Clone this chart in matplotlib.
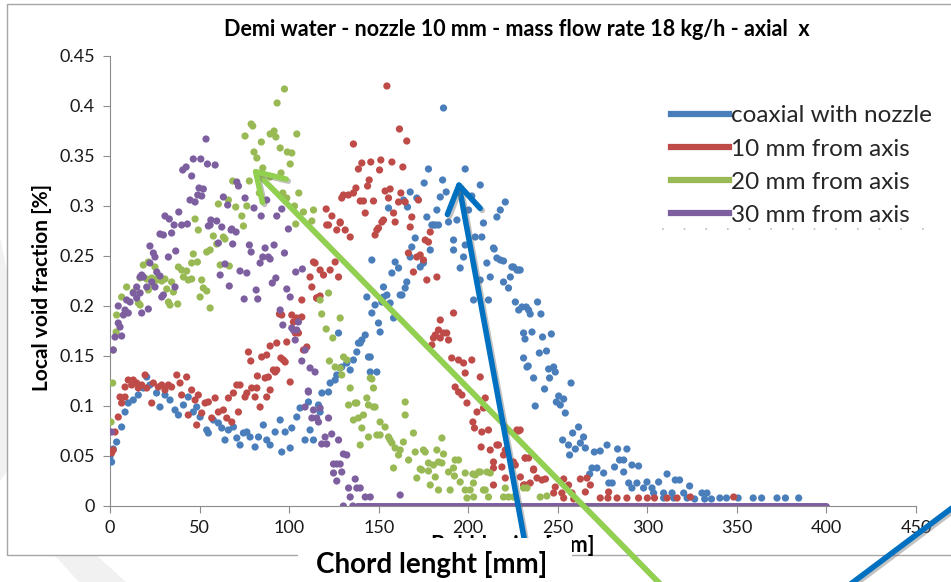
import numpy as np
import matplotlib
matplotlib.use("Agg")
import matplotlib.pyplot as plt
from matplotlib.patches import Rectangle, Polygon, FancyArrowPatch, ArrowStyle
from matplotlib.lines import Line2D
import matplotlib.patheffects as pe

plt.rcParams['font.family'] = ['Lato', 'DejaVu Sans']

# data: (chord length mm, local void fraction)
blue_pts = [(0.9,0.044),(0,0.049),(1.8,0.057),(3.7,0.064),(6.5,0.079),(8.4,0.094),(10.2,0.103),(13,0.106),
    (15.8,0.111),(18.6,0.118),(20.5,0.129),(22.3,0.121),(26,0.113),(27.9,0.099),(30.7,0.111),(33.5,0.106),
    (36.3,0.096),(38.2,0.091),(41,0.101),(43.7,0.109),(46.5,0.094),(48.4,0.099),(50.3,0.089),(54,0.076),
    (54.9,0.073),(57.7,0.086),(60.5,0.083),(62.4,0.078),(64.2,0.066),(66.1,0.076),(68.9,0.079),(70.8,0.068),
    (72.6,0.061),(74.5,0.073),(76.4,0.074),(78.2,0.069),(81,0.059),(82.9,0.069),(85.6,0.081),(87.5,0.066),
    (89.4,0.061),(92.2,0.074),(95,0.086),(95.9,0.054),(97.8,0.074),(100.6,0.058),(101.5,0.078),(104.3,0.089),
    (106.1,0.098),(108.9,0.066),(110.8,0.104),(111.7,0.076),(113.6,0.066),(116.4,0.101),(117.3,0.094),
    (118.3,0.113),(122,0.114),(122.9,0.123),(125.7,0.126),(126.6,0.131),(128.5,0.138),(132.2,0.143),
    (134.1,0.136),(135.9,0.146),(138.7,0.163),(140.6,0.166),(142.5,0.171),(144.3,0.149),(145.3,0.134),
    (146.2,0.193),(148,0.201),(149,0.134),(149.9,0.183),(150.8,0.174),(152.7,0.209),(154.6,0.211),
    (156.4,0.203),(158.3,0.188),(162,0.211),(146.2,0.246),(143.4,0.209),(151.8,0.204),(152.7,0.219),
    (157.4,0.233),(159.2,0.244),(161.1,0.238),(163,0.211),(164.8,0.218),(165.7,0.224),(167.6,0.249),
    (168.5,0.259),(170.4,0.268),(173.2,0.239),(175,0.243),(178.8,0.256),(179.7,0.281),(181.6,0.281),
    (183.4,0.281),(189,0.284),(191.8,0.266),(191.8,0.256),(195.5,0.238),(197.4,0.249),(198.3,0.261),
    (203,0.206),(203.9,0.269),(206.7,0.226),(207.6,0.269),(208.5,0.283),(210.4,0.243),(211.3,0.206),
    (212.3,0.229),(214.1,0.258),(216,0.248),(217.9,0.246),(219.7,0.245),(219.7,0.224),(223.5,0.229),
    (224.4,0.239),(226.3,0.204),(227.2,0.236),(228.2,0.196),(230,0.199),(230.9,0.173),(230.9,0.148),
    (232.8,0.139),(233.7,0.196),(127.6,0.173),(139.7,0.163),(137.8,0.154),(145.3,0.149),(129.4,0.139),
    (186.2,0.398),(177.8,0.337),(198.3,0.337),(175.4,0.323),(185.7,0.326),(206.7,0.321),(167.6,0.314),
    (171.3,0.308),(184.4,0.309),(187.7,0.314),(202,0.310),(220.7,0.304),(217.9,0.296),(216,0.289),
    (163.9,0.306),(166.1,0.299),(155.5,0.298),(182.5,0.296),(176.9,0.289),(200.2,0.296),(193.7,0.286),
    (180.6,0.281),(214.5,0.257),(225.3,0.239),(228.1,0.236),(222.5,0.218),(229,0.236),(238.7,0.204),
    (232.4,0.199),(234.6,0.192),(240.6,0.192),(235.6,0.174),(231.7,0.167),(241.5,0.169),(246.4,0.172),
    (239.7,0.153),(243.7,0.155),(233.5,0.140),(244.9,0.137),(247.7,0.139),(248.6,0.134),(236.5,0.128),
    (245.4,0.128),(257.4,0.123),(242.6,0.117),(250.5,0.110),(249.2,0.104),(253.3,0.107),(251.4,0.101),
    (237.4,0.100),(254.2,0.093),(261.6,0.079),(258.3,0.073),(264.4,0.069),(252.7,0.066),(262.6,0.063),
    (256,0.061),(259.8,0.057),(265.4,0.058),(256.6,0.051),(270.4,0.054),(273.7,0.055),(277.5,0.061),
    (283.4,0.057),(288.6,0.057),(284.5,0.046),(286.8,0.046),(269.1,0.038),(271.9,0.038),(281.7,0.039),
    (291.4,0.041),(295.1,0.040),(275.6,0.033),(267.8,0.032),(286.8,0.034),(278.5,0.023),(280.4,0.023),
    (289.6,0.023),(294.2,0.023),(299.8,0.024),(306.3,0.024),(311,0.032),(315.6,0.026),(318,0.026),
    (323.6,0.020),(291.4,0.018),(297.9,0.018),(302.6,0.018),(303.5,0.013),(309.1,0.013),(313.8,0.013),
    (320.3,0.013),(330.5,0.013),(333.3,0.013),(309.1,0.008),(314.7,0.008),(322.2,0.008),(326.4,0.007),
    (332,0.007),(335.8,0.007),(340.5,0.008),(344.2,0.008),(350.7,0.008),(359.1,0.008),(363.8,0.008),
    (372.4,0.008),(377.1,0.008),(384.5,0.008)]

red_pts = [(0.9,0.053),(1.8,0.056),(2.8,0.074),(4.6,0.089),(6.5,0.103),(5.6,0.109),(8.4,0.109),(8.4,0.119),
    (10.2,0.126),(12.1,0.121),(13,0.126),(14.9,0.123),(15.8,0.118),(17.7,0.121),(19.6,0.131),(20.5,0.118),
    (23.3,0.103),(24.2,0.123),(27,0.119),(28.9,0.121),(30.7,0.116),(32.6,0.121),(34.4,0.119),(37.3,0.131),
    (39.1,0.123),(40,0.111),(42.8,0.129),(43.7,0.091),(45.6,0.116),(47.5,0.106),(49.3,0.111),(48.4,0.081),
    (51.2,0.093),(53.1,0.103),(54.9,0.104),(56.8,0.088),(58.7,0.108),(60.5,0.094),(63.3,0.096),(65.2,0.088),
    (66.1,0.108),(68,0.084),(68.9,0.113),(70.8,0.121),(71.7,0.094),(72.6,0.121),(75.4,0.109),(76.4,0.113),
    (79.1,0.118),(81,0.109),(82,0.118),(83.8,0.099),(86.6,0.128),(87.5,0.109),(88.4,0.129),(89.4,0.116),
    (100.6,0.124),(92.2,0.134),(77.3,0.154),(78.6,0.145),(82.3,0.130),(84.7,0.149),(87.5,0.151),(89.4,0.160),
    (91.2,0.136),(93.1,0.163),(95.4,0.148),(97.8,0.144),(98.7,0.164),(101.5,0.191),(102.4,0.184),
    (104.3,0.188),(105.2,0.173),(107.1,0.189),(108,0.156),(109.9,0.159),(107.1,0.206),(115.4,0.208),
    (117.3,0.210),(94.6,0.192),(113.6,0.244),(111.7,0.229),(112.7,0.219),(95.9,0.191),(103.4,0.173),
    (93.1,0.136),(96.8,0.146),(121,0.281),(126.6,0.276),(128.5,0.283),(131.3,0.276),(134.1,0.269),
    (148,0.271),(149,0.276),(151.8,0.284),(159.2,0.284),(167.6,0.279),(176,0.266),(177.8,0.264),
    (178.8,0.274),(166.6,0.253),(171.3,0.249),(173.2,0.251),(175,0.246),(169.4,0.234),(176.9,0.226),
    (182.5,0.229),(114.5,0.243),(117.3,0.236),(119.2,0.231),(122.9,0.236),(125.7,0.244),(127.6,0.229),
    (115.4,0.208),(184.4,0.186),(191.8,0.193),(188,0.173),(183.4,0.176),(181.6,0.171),(186.2,0.173),
    (184.4,0.168),(189,0.166),(180.6,0.168),(179.7,0.161),(190.8,0.148),(194.6,0.146),(197.4,0.143),
    (202,0.146),(198.3,0.133),(206.7,0.129),(154.6,0.420),(161.6,0.377),(165.7,0.365),(135.9,0.362),
    (140.6,0.343),(138.7,0.337),(145.6,0.344),(151.2,0.346),(150.5,0.336),(157.4,0.344),(163.5,0.339),
    (144.7,0.326),(143.8,0.320),(137.3,0.318),(130.3,0.311),(129.4,0.308),(133.1,0.311),(135.9,0.313),
    (139.7,0.305),(141.5,0.305),(147.1,0.305),(153.6,0.315),(156.4,0.317),(155.5,0.308),(161.1,0.304),
    (162.4,0.313),(164.8,0.304),(142.5,0.293),(158.3,0.293),(152.7,0.286),(168.5,0.289),(172.2,0.306),
    (120.7,0.297),(123.9,0.290),(128.5,0.284),(122,0.281),(149.9,0.278),(192.7,0.119),(194.6,0.114),
    (196.5,0.111),(199.3,0.103),(204.9,0.094),(208.5,0.098),(209.5,0.108),(202.6,0.084),(203.5,0.078),
    (207.6,0.074),(211.3,0.076),(207.2,0.059),(212.3,0.056),(216.9,0.061),(219.7,0.051),(214.1,0.044),
    (218.8,0.039),(214.1,0.038),(220.7,0.028),(214.1,0.021),(225.3,0.044),(228.1,0.075),(227.2,0.076),
    (229.1,0.029),(230.9,0.021),(233.7,0.048),(229,0.076),(231.8,0.048),(236.5,0.037),(238.4,0.028),
    (234.6,0.023),(241.2,0.026),(243.1,0.027),(248.6,0.019),(253.3,0.027),(252.3,0.013),(257.9,0.013),
    (253.3,0.008),(258.9,0.007),(262.6,0.027),(266.3,0.028),(268.2,0.021),(265.4,0.014),(273.7,0.008),
    (278.4,0.014),(283.1,0.008),(288.6,0.008),(295.1,0.008),(311,0.008),(316.6,0.008),(324,0.009),
    (348.2,0.009),(231.8,0.021),(247.7,0.013),(256,0.021),(216,0.061),(220.7,0.056),(226.3,0.041),
    (236.5,0.036),(231.8,0.048),(278,0.008),(300,0.008),(304,0.008)]

green_pts = [(0.6,0.084),(1.5,0.123),(1.8,0.156),(3.4,0.174),(3.7,0.191),(6.5,0.209),(9.3,0.219),(13,0.214),
    (15.8,0.203),(16.8,0.201),(16.8,0.228),(18.6,0.241),(20.5,0.227),(21.4,0.216),(21.4,0.244),(23.3,0.228),
    (24.2,0.221),(25.1,0.239),(26.1,0.226),(27,0.229),(28.9,0.225),(30.7,0.227),(31.7,0.217),(32.6,0.204),
    (33.5,0.201),(34.4,0.224),(35.4,0.214),(37.8,0.202),(38.2,0.239),(40,0.236),(41,0.229),(42.8,0.235),
    (43.7,0.226),(45.6,0.227),(45.6,0.243),(46.5,0.252),(47.5,0.287),(48.8,0.244),(49.3,0.276),(50.3,0.209),
    (51.2,0.226),(52.1,0.218),(54,0.215),(54,0.254),(55.9,0.256),(55.9,0.198),(57.7,0.270),(59.6,0.262),
    (60.5,0.302),(61.5,0.241),(63.3,0.269),(64.2,0.267),(66.1,0.306),(66.6,0.240),(68.5,0.325),(70.2,0.299),
    (73.6,0.290),(74.5,0.280),(75.4,0.370),(76.4,0.300),(77.8,0.325),(78.8,0.382),(79.7,0.380),(80.4,0.354),
    (82,0.348),(83.4,0.313),(84.5,0.364),(85.3,0.338),(89.4,0.372),(89.4,0.329),(91.6,0.375),(92.6,0.369),
    (93.3,0.403),(95,0.358),(95.5,0.333),(96.5,0.313),(97.4,0.417),(98.7,0.308),(99,0.354),(100.6,0.342),
    (101.5,0.353),(103,0.300),(103.7,0.282),(104.3,0.372),(105.4,0.313),(108,0.294),(112.7,0.285),
    (113.6,0.296),(117.3,0.206),(118.2,0.192),(120.7,0.177),(122,0.213),(122.5,0.145),(124.4,0.168),
    (125.7,0.139),(128.5,0.188),(128.5,0.138),(129.4,0.131),(130.4,0.149),(132.3,0.146),(133.2,0.101),
    (134.1,0.118),(135.9,0.086),(136.9,0.103),(137.8,0.103),(138.7,0.088),(139.7,0.061),(140.6,0.078),
    (141.5,0.091),(143.4,0.108),(144.3,0.101),(144.3,0.069),(145.3,0.128),(146.2,0.127),(147.1,0.118),
    (147.1,0.099),(148,0.099),(149,0.071),(150.8,0.084),(150.8,0.071),(153.6,0.079),(155.5,0.069),
    (156.4,0.066),(157.4,0.063),(158.3,0.038),(159.2,0.058),(161.1,0.051),(162,0.056),(163.8,0.064),
    (164.8,0.104),(164.8,0.091),(166.7,0.046),(169.4,0.073),(170.4,0.054),(171.3,0.028),(173.2,0.037),
    (174.1,0.036),(175,0.056),(176,0.054),(177.8,0.043),(177.8,0.035),(178.8,0.021),(180.6,0.041),
    (181.6,0.029),(182.5,0.056),(183.4,0.016),(183.4,0.044),(185.3,0.043),(185.3,0.068),(186.2,0.052),
    (189,0.034),(189.9,0.016),(191.8,0.038),(192.3,0.030),(192.7,0.046),(194.6,0.046),(195.5,0.024),
    (198.3,0.033),(198.3,0.016),(199.3,0.008),(201.1,0.016),(202.6,0.032),(202.9,0.023),(203,0.009),
    (203.9,0.031),(205.8,0.034),(206.7,0.034),(208.5,0.016),(209.5,0.016),(210.4,0.034),(211.3,0.009),
    (212.3,0.033),(219.7,0.009),(220.7,0.018),(222.5,0.009),(225.3,0.009),(230.9,0.018),(232.8,0.018),
    (240.2,0.009),(243.9,0.010)]

purple_pts = [(0.9,0.074),(1.8,0.156),(2.8,0.169),(4.6,0.183),(4.6,0.200),(5.6,0.179),(6.5,0.170),(7.5,0.191),
    (8.4,0.196),(9.3,0.206),(10.2,0.193),(11.2,0.204),(13,0.213),(14.9,0.208),(14.9,0.219),(16.8,0.213),
    (16.8,0.229),(17.7,0.193),(17.7,0.231),(18.6,0.229),(20.5,0.219),(21.4,0.197),(22.3,0.243),(22.3,0.260),
    (23.3,0.224),(24.2,0.253),(25.1,0.219),(25.1,0.249),(26.1,0.234),(27.9,0.230),(27.9,0.272),(28.9,0.209),
    (29.8,0.211),(29.8,0.271),(30.7,0.290),(32.6,0.249),(33.1,0.287),(34.4,0.273),(35.8,0.281),(36.3,0.219),
    (36.7,0.255),(38.4,0.294),(40,0.281),(40.6,0.336),(42.5,0.339),(43.2,0.282),(44.7,0.306),(45.6,0.330),
    (46.5,0.347),(47.5,0.304),(49,0.311),(49.7,0.318),(50.7,0.347),(51.2,0.310),(52.1,0.317),(53.6,0.367),
    (54.4,0.342),(54.9,0.280),(55.9,0.281),(56.3,0.286),(58.7,0.341),(59.6,0.285),(60.5,0.263),(61.5,0.231),
    (62.4,0.279),(63.3,0.309),(64.2,0.242),(65.7,0.301),(66.6,0.220),(67.6,0.276),(68,0.277),(68.5,0.262),
    (70.4,0.274),(70.8,0.324),(71.7,0.320),(72.6,0.235),(74.9,0.207),(75.4,0.308),(76.4,0.233),(77.8,0.261),
    (78.8,0.254),(80.4,0.298),(81.6,0.216),(82.5,0.207),(83.8,0.243),(84.4,0.290),(85.3,0.249),(86.6,0.258),
    (87.5,0.306),(88.4,0.249),(89.4,0.247),(90.6,0.223),(91.6,0.261),(92.6,0.228),(93.1,0.290),(95,0.196),
    (95.9,0.297),(96.5,0.181),(97.4,0.253),(98.7,0.217),(99.6,0.277),(100.6,0.209),(101.5,0.178),
    (102.4,0.176),(103.4,0.166),(103.7,0.234),(104.3,0.176),(105.2,0.184),(107.1,0.145),(107.4,0.237),
    (108.9,0.156),(108.9,0.099),(110.7,0.115),(110.8,0.114),(111.7,0.138),(112.7,0.088),(113.6,0.096),
    (114.5,0.134),(115.4,0.088),(116.4,0.084),(117.3,0.098),(118.2,0.062),(120.1,0.069),(121,0.062),
    (122,0.088),(123.8,0.072),(124.8,0.042),(124.8,0.033),(126.6,0.042),(126.6,0.025),(127.6,0.066),
    (128.5,0.042),(129.4,0.034),(130.3,0.052),(132.2,0.051),(133.2,0.018),(134.1,0.009),(136.9,0.027),
    (137.8,0.018),(139.7,0.018),(142.5,0.009),(145.3,0.009),(162,0.011),(130.3,0.0),(135.6,0.0)]

# purple sits at zero over this whole range (markers overlap into a band)
purple_zero_span = (138, 400)

labels = ["coaxial with nozzle", "10 mm from axis", "20 mm from axis", "30 mm from axis"]
colors = ["#4a7ebb", "#be4b48", "#98b954", "#7d5fa0"]
xticks = [0, 50, 100, 150, 200, 250, 300, 350, 400, 450]
yticks = [0, 0.05, 0.1, 0.15, 0.2, 0.25, 0.3, 0.35, 0.4, 0.45]
ytick_labels = ["0", "0.05", "0.1", "0.15", "0.2", "0.25", "0.3", "0.35", "0.4", "0.45"]

W, H = 951, 582
def fx(x): return x / W
def fy(y): return 1 - y / H

fig = plt.figure(figsize=(W/100, H/100), dpi=100)

# faint slide background swooshes
fig.add_artist(Polygon([(fx(0), fy(240)), (fx(18), fy(330)), (fx(7), fy(470)), (fx(0), fy(480))],
                       closed=True, color="#f1f1f1", transform=fig.transFigure, zorder=-2))
fig.add_artist(Polygon([(fx(55), fy(555)), (fx(95), fy(555)), (fx(125), fy(582)), (fx(80), fy(582))],
                       closed=True, color="#f1f1f1", transform=fig.transFigure, zorder=-2))
# chart frame
fig.add_artist(Rectangle((fx(7), fy(555)), fx(960) - fx(7), fy(4) - fy(555), transform=fig.transFigure,
                         facecolor="white", edgecolor="#a6a6a6", lw=1.0, zorder=-1))

ax = fig.add_axes([fx(110), fy(506), fx(916) - fx(110), fy(56) - fy(506)])
ax.set_facecolor("none")

for pts, c in zip([blue_pts, red_pts, green_pts, purple_pts], colors):
    arr = np.array(pts)
    ax.scatter(arr[:, 0], arr[:, 1], s=27, color=c, edgecolors="none", zorder=3)
ax.plot(purple_zero_span, [0, 0], color=colors[3], lw=5, solid_capstyle="round", zorder=3)

ax.set_xlim(0, 450)
ax.set_ylim(0, 0.45)
ax.set_xticks(xticks)
ax.set_yticks(yticks)
ax.set_yticklabels(ytick_labels)
for s in ["top", "right"]:
    ax.spines[s].set_visible(False)
for s in ["left", "bottom"]:
    ax.spines[s].set_color("#8c8c8c")
ax.tick_params(axis="both", direction="out", length=5, color="#8c8c8c", labelsize=13, labelcolor="#1a1a1a")
ax.tick_params(axis="y", pad=6)
ax.tick_params(axis="x", pad=5)

handles = [Line2D([0], [0], color=c, lw=4.5) for c in colors]
leg = fig.legend(handles, labels, loc="upper left", bbox_to_anchor=(fx(652), fy(86)), fontsize=17.5,
                 frameon=True, facecolor="white", edgecolor="none", framealpha=1, fancybox=False,
                 handlelength=2.35, handletextpad=0.12, labelspacing=0.5, borderpad=0.3)
for t in leg.get_texts():
    t.set_color("#262626")
fig.add_artist(Line2D([fx(662), fx(940)], [fy(229), fy(229)], ls=(0, (1, 12)), color="#bbbbbb",
                      lw=1.2, transform=fig.transFigure, zorder=6))

fig.text(fx(517), fy(29), "Demi water - nozzle 10 mm - mass flow rate 18 kg/h - axial  x",
         ha="center", va="center", fontsize=15.5, fontweight="bold")
fig.text(fx(42), fy(287), "Local void fraction [%]", rotation=90, ha="center", va="center",
         fontsize=15, fontweight="bold")

# overlay arrows
shadow = [pe.SimpleLineShadow(offset=(1.5, -1.5), shadow_color="#777777", alpha=0.45), pe.Normal()]
for tail, tip, c in [((668, 592), (252, 168), "#92d050"), ((534, 592), (458, 180), "#0070c0")]:
    a = FancyArrowPatch((fx(tail[0]), fy(tail[1])), (fx(tip[0]), fy(tip[1])), transform=fig.transFigure,
                        arrowstyle=ArrowStyle("->", head_length=0.8, head_width=0.5), mutation_scale=24,
                        color=c, lw=4, zorder=4, shrinkA=0, shrinkB=0)
    a.set_path_effects(shadow)
    fig.add_artist(a)
ln = Line2D([fx(848), fx(960)], [fy(586), fy(502)], color="#0070c0", lw=4, transform=fig.transFigure,
            zorder=4)
ln.set_path_effects(shadow)
fig.add_artist(ln)

# original axis title, mostly hidden under the pasted box
fig.text(fx(513), fy(546), "Bubble size [mm]", ha="center", va="center", fontsize=15.5,
         fontweight="bold", zorder=7)
fig.add_artist(Rectangle((fx(298), 0), fx(572) - fx(298), fy(538), transform=fig.transFigure,
                         facecolor="white", edgecolor="none", zorder=8))
fig.text(fx(432), fy(565), "Chord lenght [mm]", ha="center", va="center", fontsize=20,
         fontweight="bold", zorder=9)

fig.savefig("out.png", dpi=100)
